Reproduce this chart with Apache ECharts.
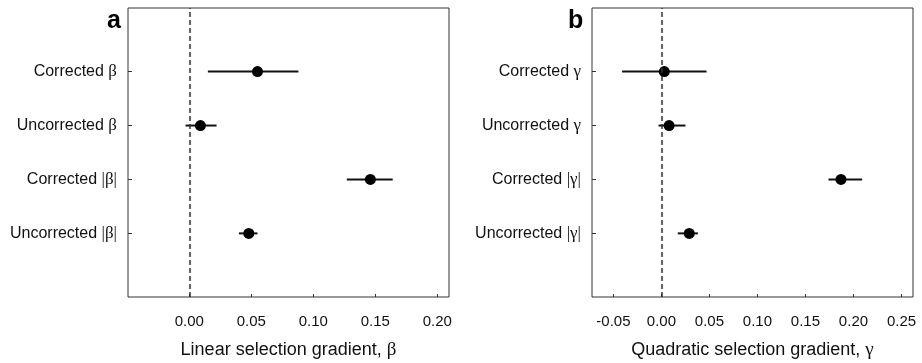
<!DOCTYPE html>
<html>
<head>
<meta charset="utf-8">
<script src="https://cdn.jsdelivr.net/npm/echarts@6/dist/echarts.min.js"></script>
<style>
	html, body {margin: 0; padding: 0; background: #fff;}
	#chart {width: 922px; height: 363px;}
</style>
</head>
<body>
<div id="chart"></div>
<script>
// rows, top to bottom
const rowPos = [4, 3, 2, 1];

// panel a: linear selection gradient
const labelsA = ['Corrected β', 'Uncorrected β', 'Corrected |β|', 'Uncorrected |β|'];
const estA = [0.055, 0.009, 0.146, 0.048];
const lowA = [0.015, -0.003, 0.127, 0.040];
const highA = [0.088, 0.022, 0.164, 0.055];
const ticksA = [0, 0.05, 0.10, 0.15, 0.20];

// panel b: quadratic selection gradient
const labelsB = ['Corrected γ', 'Uncorrected γ', 'Corrected |γ|', 'Uncorrected |γ|'];
const estB = [0.003, 0.008, 0.187, 0.029];
const lowB = [-0.041, -0.003, 0.174, 0.017];
const highB = [0.047, 0.025, 0.209, 0.038];
const ticksB = [-0.05, 0, 0.05, 0.10, 0.15, 0.20, 0.25];

const SANS = '"Liberation Sans", Arial, sans-serif';
const SERIF = '"Liberation Serif", "DejaVu Serif", serif';

// split a label so the greek part goes to the serif style
function richLabel(s) {
	const i = s.search(/[|βγ]/);
	if (i < 0) return '{n|' + s + '}';
	return '{n|' + s.slice(0, i) + '}{g|' + s.slice(i) + '}';
}

const richStyle = {
	n: {fontFamily: SANS, fontSize: 16, color: '#111'},
	g: {fontFamily: SERIF, fontSize: 17, color: '#111'}
};

const chart = echarts.init(document.getElementById('chart'));

function xAxisFor(idx, min, max, ticks, name) {
	return {
		type: 'value', gridIndex: idx, min: min, max: max,
		name: name, nameLocation: 'middle', nameGap: 44,
		nameTextStyle: {rich: {
			n: {fontFamily: SANS, fontSize: 18, color: '#111'},
			g: {fontFamily: SERIF, fontSize: 19, color: '#111'}
		}},
		axisLine: {show: false, onZero: false},
		axisTick: {show: true, inside: true, length: 3, customValues: ticks, lineStyle: {color: '#333'}},
		axisLabel: {customValues: ticks, margin: 17, fontFamily: SANS, fontSize: 15, color: '#111',
			formatter: v => v.toFixed(2)},
		splitLine: {show: false}
	};
}

function yAxisFor(idx, labels) {
	return {
		type: 'value', gridIndex: idx, min: -0.18, max: 5.18,
		axisLine: {show: false, onZero: false},
		axisTick: {show: true, inside: true, length: 4, customValues: rowPos, lineStyle: {color: '#333'}},
		axisLabel: {customValues: rowPos, margin: 11, rich: richStyle,
			formatter: v => richLabel(labels[rowPos.indexOf(Math.round(v))] || '')},
		splitLine: {show: false}
	};
}

function barSeries(idx, low, high) {
	return {
		type: 'custom', xAxisIndex: idx, yAxisIndex: idx,
		data: rowPos.map((y, i) => [low[i], high[i], y]),
		renderItem: (params, api) => {
			const a = api.coord([api.value(0), api.value(2)]);
			const b = api.coord([api.value(1), api.value(2)]);
			return {type: 'line', shape: {x1: a[0], y1: a[1], x2: b[0], y2: b[1]},
				style: {stroke: '#111', lineWidth: 2}};
		},
		z: 3
	};
}

function pointSeries(idx, est) {
	return {
		type: 'scatter', xAxisIndex: idx, yAxisIndex: idx,
		data: rowPos.map((y, i) => [est[i], y]),
		symbol: 'circle', symbolSize: 11,
		itemStyle: {color: '#000', opacity: 1},
		z: 4,
		markLine: {
			silent: true, symbol: 'none', label: {show: false},
			lineStyle: {color: '#333', type: [5, 3], width: 1.5},
			data: [{xAxis: 0}]
		}
	};
}

chart.setOption({
	animation: false,
	backgroundColor: '#fff',
	title: [
		{text: 'a', left: 102, top: 4, textStyle: {fontFamily: SANS, fontSize: 25, fontWeight: 'bold', color: '#000'}},
		{text: 'b', left: 563, top: 4, textStyle: {fontFamily: SANS, fontSize: 25, fontWeight: 'bold', color: '#000'}}
	],
	grid: [
		{left: 128, right: 473, top: 8, bottom: 66, outerBoundsMode: 'none', show: true, borderColor: '#333', borderWidth: 1},
		{left: 592, right: 9, top: 8, bottom: 66, outerBoundsMode: 'none', show: true, borderColor: '#333', borderWidth: 1}
	],
	xAxis: [
		xAxisFor(0, -0.0494, 0.2094, ticksA, '{n|Linear selection gradient, }{g|β}'),
		xAxisFor(1, -0.0723, 0.262, ticksB, '{n|Quadratic selection gradient, }{g|γ}')
	],
	yAxis: [yAxisFor(0, labelsA), yAxisFor(1, labelsB)],
	series: [
		barSeries(0, lowA, highA), pointSeries(0, estA),
		barSeries(1, lowB, highB), pointSeries(1, estB)
	]
});
</script>
</body>
</html>
